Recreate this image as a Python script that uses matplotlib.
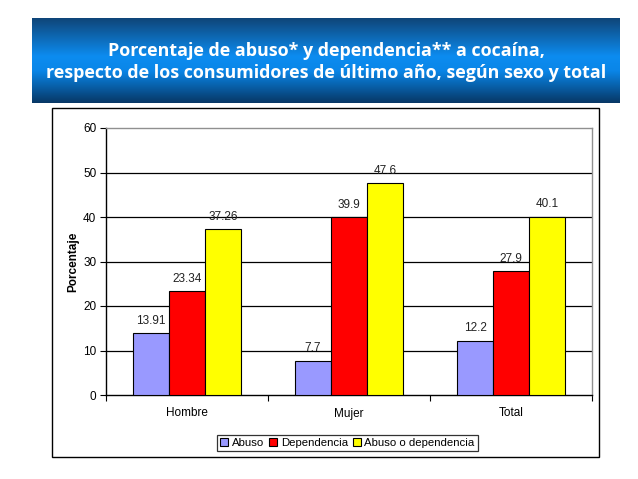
import matplotlib
matplotlib.use("Agg")
import matplotlib.pyplot as plt
import numpy as np
from matplotlib.colors import LinearSegmentedColormap
from matplotlib.patches import Rectangle, Patch

categories = ["Hombre", "Mujer", "Total"]
series_names = ["Abuso", "Dependencia", "Abuso o dependencia"]
abuso = [13.91, 7.7, 12.2]
dependencia = [23.34, 39.9, 27.9]
abuso_o_dep = [37.26, 47.6, 40.1]
colors = ["#9999FF", "#FF0000", "#FFFF00"]
yticks = [0, 10, 20, 30, 40, 50, 60]
title = "Porcentaje de abuso* y dependencia** a cocaína,\nrespecto de los consumidores de último año, según sexo y total"
ylabel = "Porcentaje"

plt.rcParams['font.family'] = ['Liberation Sans', 'DejaVu Sans']

W, H = 638, 479
fig = plt.figure(figsize=(W / 100, H / 100), dpi=100)
fig.patch.set_facecolor("white")

# Banner with vertical gradient
bx0, by0, bx1, by1 = 32, 18, 620, 103
bax = fig.add_axes([bx0 / W, 1 - by1 / H, (bx1 - bx0) / W, (by1 - by0) / H])
cmap = LinearSegmentedColormap.from_list(
    "banner", [(0.0, "#0f4578"), (0.45, "#0c8cf0"), (0.62, "#0a86e8"), (1.0, "#073765")])
grad = np.linspace(0, 1, 256).reshape(-1, 1)
bax.imshow(grad, aspect="auto", cmap=cmap, extent=[0, 1, 1, 0])
bax.set_xlim(0, 1)
bax.set_ylim(1, 0)
bax.axis("off")
ttl = fig.text((bx0 + bx1) / 2 / W, 1 - 62 / H, title, ha="center", va="center",
               color="white", fontsize=12, fontweight="bold",
               family=["Open Sans", "DejaVu Sans"], linespacing=1.3)
# fit the title width to the banner text width (~563 px)
fig.canvas.draw()
wpx = ttl.get_window_extent().width
ttl.set_fontsize(12 * 563 / wpx)

# Outer chart frame
fig.add_artist(Rectangle((52 / W, 1 - 457 / H), (599 - 52) / W, (457 - 108) / H,
                         transform=fig.transFigure, fill=False, edgecolor="black", lw=1.0))

# Plot axes
px0, py0, px1, py1 = 106, 128, 592, 395
ax = fig.add_axes([px0 / W, 1 - py1 / H, (px1 - px0) / W, (py1 - py0) / H])
x = np.arange(len(categories))
bw = 0.222
data = [abuso, dependencia, abuso_o_dep]
for i, (vals, c, name) in enumerate(zip(data, colors, series_names)):
    bars = ax.bar(x + (i - 1) * bw, vals, bw, color=c, edgecolor="black", lw=0.8,
                  label=name, zorder=3)
    for b, v in zip(bars, vals):
        ax.annotate(f"{v:g}", (b.get_x() + b.get_width() / 2, v), xytext=(0, 4.5),
                    textcoords="offset points", ha="center", va="bottom",
                    fontsize=8.5, color="#222222", zorder=4)

ax.set_xlim(-0.5, 2.5)
ax.set_ylim(0, 60)
ax.set_yticks(yticks)
ax.set_xticks(x)
ax.set_xticklabels(categories)
ax.set_xticks([-0.5, 0.5, 1.5, 2.5], minor=True)
ax.tick_params(axis="x", which="major", length=0, pad=9, labelsize=8.5)
ax.tick_params(axis="x", which="minor", length=4, direction="out", width=0.8)
ax.tick_params(axis="y", length=4, direction="out", width=0.8, labelsize=8.5, pad=3)
for yv in yticks[1:-1]:
    ax.axhline(yv, color="black", lw=0.9, zorder=1)
for s in ["top", "right"]:
    ax.spines[s].set_color("#909090")
    ax.spines[s].set_linewidth(1.0)
for s in ["left", "bottom"]:
    ax.spines[s].set_color("black")
    ax.spines[s].set_linewidth(1.0)
ax.set_ylabel(ylabel, fontsize=8.5, fontweight="bold", labelpad=3)

handles = [Patch(facecolor=c, edgecolor="black", lw=0.8) for c in colors]
leg = fig.legend(handles, series_names, loc="center", bbox_to_anchor=(347.5 / W, 1 - 443 / H),
                 ncol=3, fontsize=8.2, frameon=True, fancybox=False, edgecolor="black",
                 handlelength=0.7, handleheight=0.7, handletextpad=0.3, columnspacing=0.45,
                 borderpad=0.3, borderaxespad=0)
leg.get_frame().set_linewidth(0.9)

fig.savefig("out.png", dpi=100, facecolor="white")
